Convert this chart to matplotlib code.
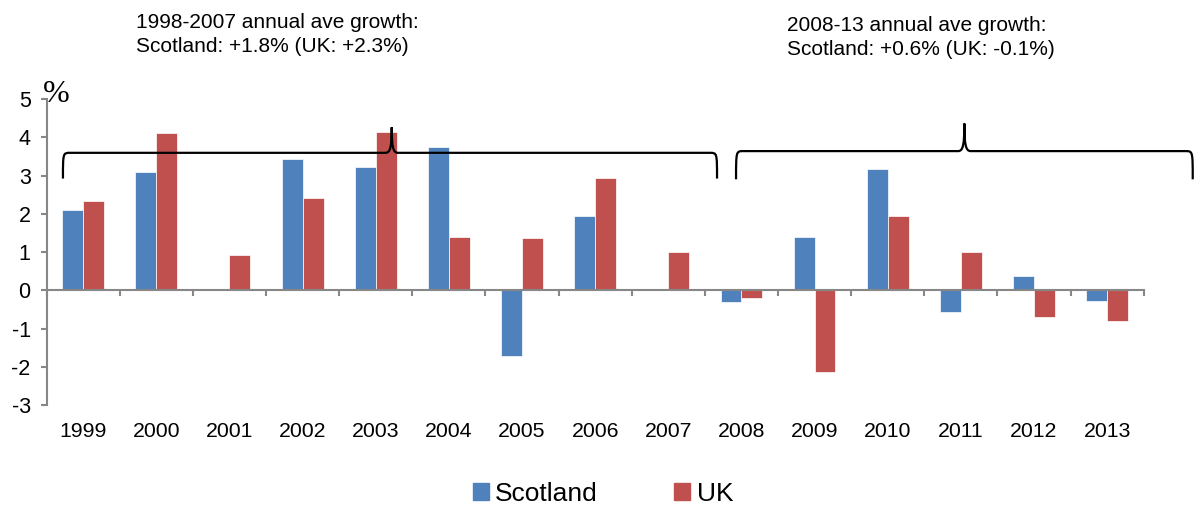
import numpy as np
import matplotlib
matplotlib.use("Agg")
import matplotlib.pyplot as plt
from matplotlib.path import Path
from matplotlib.patches import PathPatch, Patch

plt.rcParams['font.family'] = ['Liberation Sans', 'DejaVu Sans']
plt.rcParams['axes.unicode_minus'] = False

# données (croissance annuelle, %)
years = ['1999', '2000', '2001', '2002', '2003', '2004', '2005', '2006',
         '2007', '2008', '2009', '2010', '2011', '2012', '2013']
scotland = [2.10, 3.09, 0.0, 3.44, 3.23, 3.74, -1.71, 1.94,
            0.0, -0.31, 1.40, 3.16, -0.58, 0.38, -0.29]
uk = [2.34, 4.10, 0.93, 2.40, 4.14, 1.40, 1.37, 2.93,
      1.01, -0.21, -2.13, 1.95, 1.01, -0.70, -0.81]

note_left = "1998-2007 annual ave growth:\nScotland: +1.8% (UK: +2.3%)"
note_right = "2008-13 annual ave growth:\nScotland: +0.6% (UK: -0.1%)"

blue = '#4F81BD'
red = '#C0504D'
gray = '#878787'

fig = plt.figure(figsize=(11.99, 5.09), dpi=100)
ax = fig.add_axes([0.0389, 0.2043, 0.915, 0.6012])

x = np.arange(len(years))
w = 1 / 3.5
ax.bar(x - w / 2, scotland, w, color=blue, edgecolor='#FFFFFF', linewidth=0.5)
ax.bar(x + w / 2, uk, w, color=red, edgecolor='#FFFFFF', linewidth=0.5)

ax.set_xlim(-0.5, len(years) - 0.5)
ax.set_ylim(-3, 5)
ax.set_yticks(range(-3, 6))

for s in ['top', 'right']:
    ax.spines[s].set_visible(False)
ax.spines['left'].set_color(gray)
ax.spines['left'].set_linewidth(1.5)
ax.spines['bottom'].set_position(('data', 0))
ax.spines['bottom'].set_color(gray)
ax.spines['bottom'].set_linewidth(1.5)

ax.set_xticks(np.arange(-0.5, len(years), 1))
ax.set_xticklabels([])
ax.tick_params(axis='x', direction='out', length=4.5, width=1.5, color=gray)
ax.tick_params(axis='y', direction='out', length=4.5, width=1.5, color=gray,
               labelsize=15.5, pad=7)

# étiquettes des années en bas du graphique
sec = ax.secondary_xaxis('bottom')
sec.set_xticks(x, years)
sec.tick_params(length=0, labelsize=15.3, pad=12)
sec.spines['bottom'].set_visible(False)


def brace(x0, xm, x1, y_end, y_line, y_peak, r_end=0.1, r_mid=0.085):
    h = y_peak - y_line
    verts = [(x0, y_end),
             (x0, y_line), (x0, y_line), (x0 + r_end, y_line),
             (xm - r_mid, y_line),
             (xm - r_mid * 0.2, y_line), (xm, y_line + h * 0.25), (xm, y_peak),
             (xm, y_line + h * 0.25), (xm + r_mid * 0.2, y_line), (xm + r_mid, y_line),
             (x1 - r_end, y_line),
             (x1, y_line), (x1, y_line), (x1, y_end)]
    codes = [Path.MOVETO,
             Path.CURVE4, Path.CURVE4, Path.CURVE4,
             Path.LINETO,
             Path.CURVE4, Path.CURVE4, Path.CURVE4,
             Path.CURVE4, Path.CURVE4, Path.CURVE4,
             Path.LINETO,
             Path.CURVE4, Path.CURVE4, Path.CURVE4]
    ax.add_patch(PathPatch(Path(verts, codes), facecolor='none',
                           edgecolor='black', linewidth=1.6, clip_on=False))


brace(-0.277, 4.218, 8.666, 2.92, 3.593, 4.26)
brace(8.926, 12.048, 15.17, 2.90, 3.638, 4.36)

fig.text(136 / 1199, 1 - 34.5 / 509, note_left, fontsize=15, va='center',
         ha='left', linespacing=1.3)
fig.text(787 / 1199, 1 - 37.5 / 509, note_right, fontsize=15, va='center',
         ha='left', linespacing=1.3)
fig.text(56 / 1199, 1 - 94 / 509, '%', fontsize=23, family='Liberation Serif',
         ha='center', va='center')

handles = [Patch(color=blue, label='Scotland'), Patch(color=red, label='UK')]
fig.legend(handles=handles, loc='center', bbox_to_anchor=(603 / 1199, 1 - 494 / 509),
           ncol=2, frameon=False, fontsize=19, handlelength=0.6, handleheight=0.6,
           handletextpad=0.25, columnspacing=2.9, borderpad=0)

fig.savefig("out.png", dpi=100)
